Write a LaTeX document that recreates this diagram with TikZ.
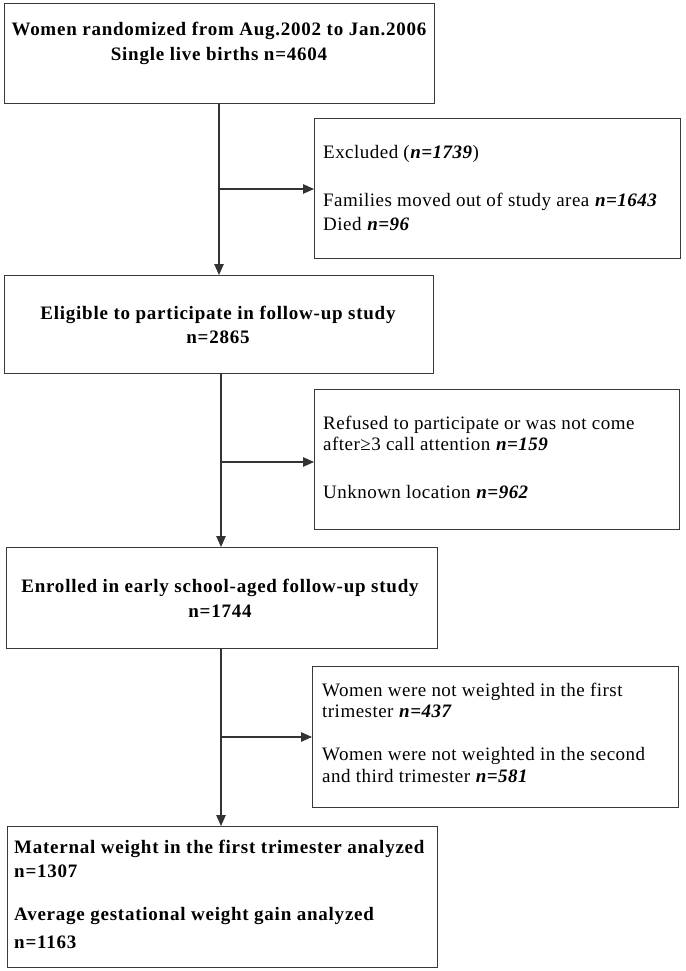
\documentclass[tikz,border=0pt]{standalone}
\usepackage{fontspec}
\setmainfont{Liberation Serif}[LetterSpace=2.5,BoldFeatures={LetterSpace=4}]
\usetikzlibrary{arrows.meta}
\newcommand{\nv}[1]{\textbf{\textit{#1}}}
\begin{document}
\begin{tikzpicture}[x=1pt,y=-1pt,
  box/.style={draw=black!78, line width=1.3pt, inner sep=0pt, anchor=north west},
  ln/.style={draw=black!80, line width=1.2pt},
  arr/.style={ln, -{Triangle[length=11pt,width=9.5pt]}},
  tb/.style={font=\fontsize{19}{22}\selectfont\bfseries, inner sep=0pt},
  tr/.style={font=\fontsize{19}{22}\selectfont, inner sep=0pt, anchor=base west}]
\useasboundingbox (0,0) rectangle (685,971);
% boxes
\node[box, minimum width=430pt, minimum height=100pt] (b1) at (4,3) {};
\node[box, minimum width=366pt, minimum height=140pt] (e) at (314,118) {};
\node[box, minimum width=429pt, minimum height=98pt] (b2) at (4,275) {};
\node[box, minimum width=365pt, minimum height=140pt] (r) at (314,389) {};
\node[box, minimum width=431pt, minimum height=101pt] (b3) at (6,547) {};
\node[box, minimum width=366pt, minimum height=141pt] (w) at (312,666) {};
\node[box, minimum width=430pt, minimum height=141pt] (b4) at (7,826) {};
% texts
\node[tb, anchor=base] (t11) at (219,36) {Women randomized from Aug.2002 to Jan.2006};
\node[tb, anchor=base] (t12) at (219,61) {Single live births n=4604};
\node[tr] (te1) at (323,158) {Excluded (\nv{n=1739})};
\node[tr] (te2) at (323,206) {Families moved out of study area \nv{n=1643}};
\node[tr] (te3) at (323,230) {Died \nv{n=96}};
\node[tb, anchor=base] (t21) at (218,319) {Eligible to participate in follow-up study};
\node[tb, anchor=base] (t22) at (218,343) {n=2865};
\node[tr] (tr1) at (323,429) {Refused to participate or was not come};
\node[tr] (tr2) at (323,450) {after≥3 call attention \nv{n=159}};
\node[tr] (tr3) at (323,498) {Unknown location \nv{n=962}};
\node[tb, anchor=base] (t31) at (220,592) {Enrolled in early school-aged follow-up study};
\node[tb, anchor=base] (t32) at (220,617) {n=1744};
\node[tr] (tw1) at (322,696) {Women were not weighted in the first};
\node[tr] (tw2) at (322,717) {trimester \nv{n=437}};
\node[tr] (tw3) at (322,760) {Women were not weighted in the second};
\node[tr] (tw4) at (322,782) {and third trimester \nv{n=581}};
\node[tb, anchor=base west] (t41) at (14,853) {Maternal weight in the first trimester analyzed};
\node[tb, anchor=base west] (t42) at (14,877) {n=1307};
\node[tb, anchor=base west] (t43) at (14,920) {Average gestational weight gain analyzed};
\node[tb, anchor=base west] (t44) at (14,948) {n=1163};
% junctions
\coordinate (j1) at (219,189);
\coordinate (j2) at (221,462);
\coordinate (j3) at (221,737);
% connectors
\draw[arr] (j1 |- b1.south) -- (j1 |- b2.north);
\draw[arr] (j1) -- (j1 -| e.west);
\draw[arr] (j2 |- b2.south) -- (j2 |- b3.north);
\draw[arr] (j2) -- (j2 -| r.west);
\draw[arr] (j3 |- b3.south) -- (j3 |- b4.north);
\draw[arr] (j3) -- (j3 -| w.west);
\end{tikzpicture}
\end{document}
